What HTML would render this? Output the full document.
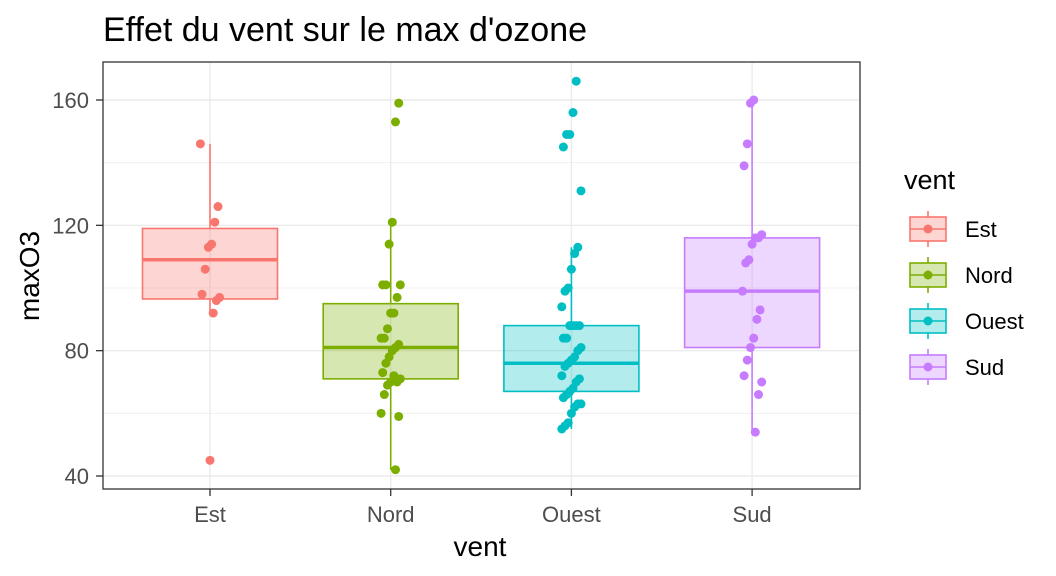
<!DOCTYPE html>
<html><head><meta charset="utf-8"><style>
body{margin:0;background:#fff;}
svg{display:block;font-family:"Liberation Sans",Arial,sans-serif;}
</style></head><body>
<svg id="chart" width="1056" height="576" viewBox="0 0 1056 576">
<rect width="1056" height="576" fill="#fff"/>
<text x="103" y="41" font-size="34" fill="#000">Effet du vent sur le max d'ozone</text>
<g id="grid"></g>
<g id="marks"></g>
<rect x="103" y="62" width="757" height="427" fill="none" stroke="#333" stroke-width="1.3"/>
<g id="axes"></g>
<text x="0" y="0" transform="translate(39,276) rotate(-90)" text-anchor="middle" font-size="28">maxO3</text>
<text x="480" y="556" text-anchor="middle" font-size="28">vent</text>
<g id="legend"></g>
</svg>
<script>
const categories = ["Est","Nord","Ouest","Sud"];
const colors = ["#F8766D","#7CAE00","#00BFC4","#C77CFF"];
const yTicks = [40,80,120,160];
const q1 = [96.5,71,67,81];
const medians = [109,81,76,99];
const q3 = [119,95,88,116];
const whiskLo = [92,42,55,54];
const whiskHi = [146,121,113,160];
const ptsEst = [146,126,121,114,113,106,98,97,96,92,45];
const ptsNord = [159,153,121,114,101,101,101,97,92,92,87,84,84,82,81,80,78,76,73,71,70,72,70,69,66,60,59,42];
const ptsOuest = [166,156,149,149,145,131,113,111,106,100,99,94,88,88,88,88,84,84,81,80,78,77,76,75,72,71,70,68,67,66,65,63,63,62,60,57,56,55];
const ptsSud = [160,159,146,139,117,116,116,114,109,108,99,93,90,84,81,77,72,70,66,54];
const points = [ptsEst,ptsNord,ptsOuest,ptsSud];

const NS="http://www.w3.org/2000/svg";
const y = v => 476 - (v-40)*376/120;
const x = i => 210 + i*180.7;
function mk(tag, attrs, parent){const e=document.createElementNS(NS,tag);for(const k in attrs)e.setAttribute(k,attrs[k]);parent.appendChild(e);return e;}
const grid=document.getElementById('grid'), marks=document.getElementById('marks'), axes=document.getElementById('axes'), legend=document.getElementById('legend');

for(let k=0;k<yTicks.length-1;k++){const v=(yTicks[k]+yTicks[k+1])/2;
  const l=mk('line',{x1:103,x2:860,y1:y(v),y2:y(v),stroke:'#f0f0f0','stroke-width':1},grid);
  
  }
yTicks.forEach(v=>{
  const l=mk('line',{x1:103,x2:860,y1:y(v),y2:y(v),stroke:'#ebebeb','stroke-width':1.4},grid);
  
  
  const t=mk('line',{x1:96,x2:103,y1:y(v),y2:y(v),stroke:'#333','stroke-width':1.3},axes);
  
  
  const tx=mk('text',{x:89,y:y(v)+8,'text-anchor':'end','font-size':22,fill:'#4d4d4d'},axes);
  tx.textContent=v;
  
  
});
categories.forEach((c,i)=>{
  const l=mk('line',{x1:x(i),x2:x(i),y1:62,y2:489,stroke:'#ebebeb','stroke-width':1.4},grid);
  
  
  const t=mk('line',{x1:x(i),x2:x(i),y1:489,y2:496,stroke:'#333','stroke-width':1.3},axes);
  
  
  const tx=mk('text',{x:x(i),y:522,'text-anchor':'middle','font-size':22,fill:'#4d4d4d'},axes);
  tx.textContent=c;
  
  

  const col=colors[i], cx=x(i), hw=67.5;
  const g=mk('g',{},marks);
  
  
  mk('line',{x1:cx,x2:cx,y1:y(q3[i]),y2:y(whiskHi[i]),stroke:col,'stroke-width':1.6},g);
  mk('line',{x1:cx,x2:cx,y1:y(q1[i]),y2:y(whiskLo[i]),stroke:col,'stroke-width':1.6},g);
  mk('rect',{x:cx-hw,y:y(q3[i]),width:2*hw,height:y(q1[i])-y(q3[i]),fill:col,'fill-opacity':0.3,stroke:col,'stroke-width':1.6},g);
  mk('line',{x1:cx-hw,x2:cx+hw,y1:y(medians[i]),y2:y(medians[i]),stroke:col,'stroke-width':3.5},g);
  points[i].forEach((v,j)=>{
    const jit=(((j*37+i*11)%13)-6)*1.6;
    const p=mk('circle',{cx:cx+jit,cy:y(v),r:4.5,fill:col},marks);
    
    
  });
  const ly=229+i*46;
  const lg=mk('g',{},legend);
  
  
  mk('line',{x1:928,x2:928,y1:ly-18,y2:ly+18,stroke:col,'stroke-width':1.6},lg);
  mk('rect',{x:910,y:ly-12,width:36,height:24,fill:'#fff',stroke:'none'},lg);
  mk('rect',{x:910,y:ly-12,width:36,height:24,fill:col,'fill-opacity':0.3,stroke:col,'stroke-width':1.6},lg);
  mk('line',{x1:910,x2:946,y1:ly,y2:ly,stroke:col,'stroke-width':1.6},lg);
  mk('circle',{cx:928,cy:ly,r:4.5,fill:col},lg);
  const lt=mk('text',{x:965,y:ly+8,'font-size':22,fill:'#000'},lg);
  lt.textContent=c;
});
const lt=mk('text',{x:904,y:189,'font-size':27,fill:'#000'},legend);
lt.textContent='vent';


</script>
</body></html>
